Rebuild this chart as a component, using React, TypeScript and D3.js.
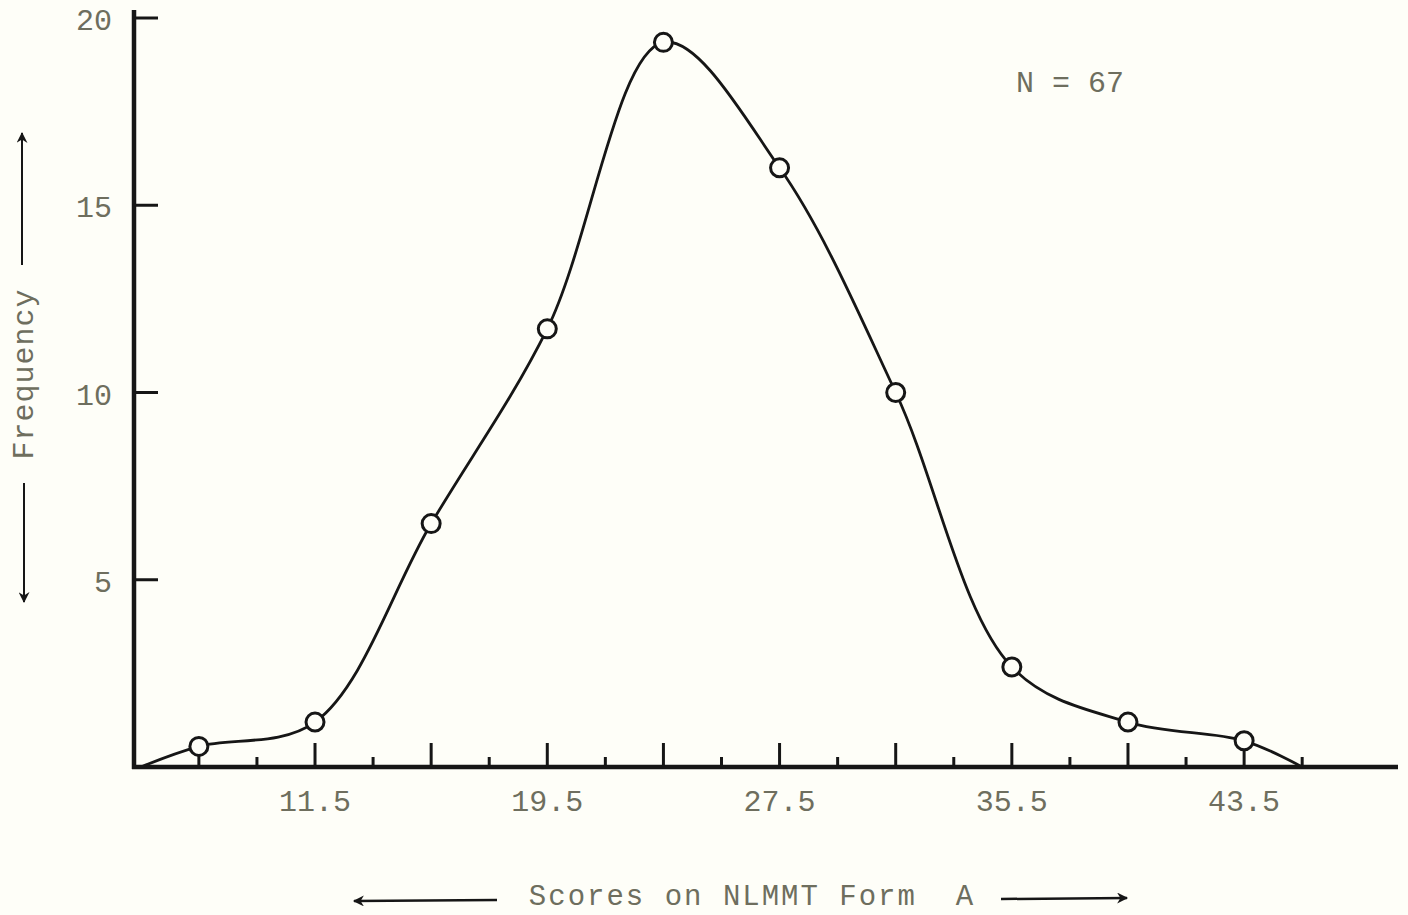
import * as d3 from "d3";

const WIDTH = 1408;
const HEIGHT = 915;

// midpoints of the score intervals and the (smoothed) frequencies
const midpoints = [7.5, 11.5, 15.5, 19.5, 23.5, 27.5, 31.5, 35.5, 39.5, 43.5];
const frequencies = [0.55, 1.2, 6.5, 11.7, 19.35, 16.0, 10.0, 2.67, 1.2, 0.7];
// the curve is closed down to the axis at the outer interval limits
const curveEnds = [5.5, 45.5];
const boundaries = [9.5, 13.5, 17.5, 21.5, 25.5, 29.5, 33.5, 37.5, 41.5, 45.5];
const xLabels = [11.5, 19.5, 27.5, 35.5, 43.5];
const yTicks = [5, 10, 15, 20];

const INK = "#161616";
const TYPE = "#6e6e5e";
const FONT = "'Liberation Mono', 'DejaVu Sans Mono', monospace";

export default function App() {
  const x = d3.scaleLinear().domain([5.3, 48.8]).range([135, 1398]);
  const y = d3.scaleLinear().domain([0, 20]).range([767, 18]);

  const pts: [number, number][] = [
    [curveEnds[0], 0],
    ...midpoints.map((m, i) => [m, frequencies[i]] as [number, number]),
    [curveEnds[1], 0],
  ];

  const line = d3
    .line<[number, number]>()
    .x(([a]) => x(a))
    .y(([, b]) => y(b))
    .curve(d3.curveCatmullRom.alpha(0.5));

  const axisX = 134;
  const baseY = y(0);

  return (
    <svg
      width={WIDTH}
      height={HEIGHT}
      style={{ position: "absolute", left: 0, top: 0, background: "#fefef8" }}
    >
      <defs>
        <marker
          id="head"
          viewBox="0 0 10 10"
          refX="9"
          refY="5"
          markerWidth="13"
          markerHeight="11"
          orient="auto-start-reverse"
          markerUnits="userSpaceOnUse"
        >
          <path d="M0,0 L10,5 L0,10 L3,5 Z" fill={INK} />
        </marker>
      </defs>

      {/* axes */}
      <line x1={axisX} y1={10} x2={axisX} y2={baseY + 2} stroke={INK} strokeWidth={4.5} />
      <line x1={axisX - 2} y1={baseY} x2={1398} y2={baseY} stroke={INK} strokeWidth={4.5} />

      {/* y ticks and labels */}
      {yTicks.map((t) => (
        <g key={t}>
          <line x1={axisX} x2={axisX + 24} y1={y(t)} y2={y(t)} stroke={INK} strokeWidth={3} />
          <text
            x={axisX - 22}
            y={y(t) + 12}
            textAnchor="end"
            fontFamily={FONT}
            fontSize={30}
            fill={TYPE}
          >
            {t}
          </text>
        </g>
      ))}

      {/* x ticks */}
      {midpoints.map((m) => (
        <line key={"M" + m} x1={x(m)} x2={x(m)} y1={baseY} y2={baseY - 24} stroke={INK} strokeWidth={3} />
      ))}
      {boundaries.map((b) => (
        <line key={"b" + b} x1={x(b)} x2={x(b)} y1={baseY} y2={baseY - 10} stroke={INK} strokeWidth={3} />
      ))}
      {xLabels.map((l) => (
        <text
          key={l}
          x={x(l)}
          y={baseY + 44}
          textAnchor="middle"
          fontFamily={FONT}
          fontSize={30}
          fill={TYPE}
        >
          {l.toFixed(1)}
        </text>
      ))}

      {/* frequency curve */}
      <path d={line(pts) ?? undefined} fill="none" stroke={INK} strokeWidth={2.8} />
      {midpoints.map((m, i) => (
        <circle
          key={m}
          cx={x(m)}
          cy={y(frequencies[i])}
          r={9}
          fill="#fefef8"
          stroke={INK}
          strokeWidth={3}
        />
      ))}

      <text x={1070} y={92} textAnchor="middle" fontFamily={FONT} fontSize={30} fill={TYPE} style={{ whiteSpace: "pre" }}>
        {"N = 67"}
      </text>

      {/* y axis title */}
      <line x1={22} y1={265} x2={22} y2={133} stroke={INK} strokeWidth={2} markerEnd="url(#head)" />
      <text
        transform="translate(33,374) rotate(-90)"
        textAnchor="middle"
        fontFamily={FONT}
        fontSize={30}
        fill={TYPE}
        letterSpacing={1}
      >
        Frequency
      </text>
      <line x1={24} y1={483} x2={24} y2={602} stroke={INK} strokeWidth={2} markerEnd="url(#head)" />

      {/* x axis title */}
      <line x1={497} y1={900} x2={354} y2={901} stroke={INK} strokeWidth={2.5} markerEnd="url(#head)" />
      <text
        x={752}
        y={905}
        textAnchor="middle"
        fontFamily={FONT}
        fontSize={29}
        fill={TYPE}
        letterSpacing={2}
        style={{ whiteSpace: "pre" }}
      >
        {"Scores on NLMMT Form  A"}
      </text>
      <line x1={1001} y1={899} x2={1127} y2={898} stroke={INK} strokeWidth={2.5} markerEnd="url(#head)" />
    </svg>
  );
}
